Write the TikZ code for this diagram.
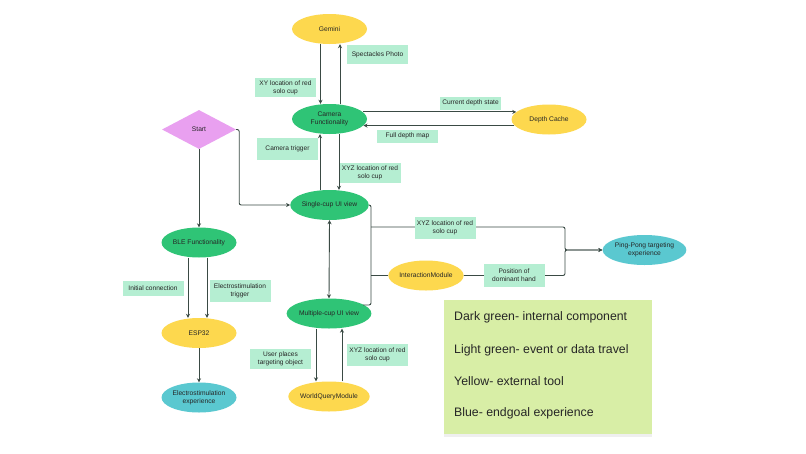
\documentclass[tikz,border=0pt]{standalone}
\usepackage{fontspec}
\setmainfont{Liberation Sans}
\usetikzlibrary{shapes.geometric,arrows.meta,calc,shadows}
\definecolor{dkgreen}{HTML}{2FC476}
\definecolor{yel}{HTML}{FDD84E}
\definecolor{blu}{HTML}{5AC8D0}
\definecolor{pnk}{HTML}{E9A0F0}
\definecolor{lbl}{HTML}{B5EED2}
\definecolor{leg}{HTML}{D8EEA6}
\definecolor{lin}{HTML}{3A4A44}
\definecolor{txt}{HTML}{262626}
\tikzset{
  comp/.style={ellipse, minimum width=75pt, minimum height=30pt, inner sep=0pt, text=txt, font=\fontsize{6.7}{8}\selectfont, align=center},
  dk/.style={comp, fill=dkgreen},
  ye/.style={comp, fill=yel},
  bl/.style={comp, fill=blu},
  lab/.style={fill=lbl, minimum width=61pt, minimum height=13pt, inner sep=1.5pt, text=txt, font=\fontsize{6.6}{8}\selectfont, align=center},
  conn/.style={draw=lin, line width=0.9pt},
  arr/.style={conn, -{Stealth[length=4pt,width=4pt]}},
  darr/.style={conn, {Stealth[length=4pt,width=4pt]}-{Stealth[length=4pt,width=4pt]}},
  legtxt/.style={anchor=west, text=txt, font=\fontsize{12.3}{14}\selectfont, inner sep=0pt},
}
\begin{document}
\begin{tikzpicture}[x=1pt,y=-1pt]
\useasboundingbox[fill=white] (0,0) rectangle (806,453);

% nodes
\node[ye] (gem) at (329.5,29) {Gemini};
\node[dk] (cam) at (329.5,119) {Camera\\Functionality};
\node[ye] (dc) at (549,119.5) {Depth Cache};
\node[diamond, fill=pnk, minimum width=74pt, minimum height=39pt, inner sep=0pt, aspect=1.9, text=txt, font=\fontsize{6.7}{8}\selectfont] (start) at (199,129.5) {Start};
\node[dk] (sc) at (329.5,205) {Single-cup UI view};
\node[ye] (im) at (426,275.5) {InteractionModule};
\node[bl] (pp) at (644.5,250) {Ping-Pong targeting\\experience};
\node[dk] (mc) at (329,313.5) {Multiple-cup UI view};
\node[dk] (ble) at (199,242.5) {BLE Functionality};
\node[ye] (esp) at (199,333) {ESP32};
\node[bl] (es) at (199,397.5) {Electrostimulation\\experience};
\node[ye] (wq) at (329,396.5) {WorldQueryModule};

% junction coordinates
\coordinate (bb) at (371,305);
\coordinate (j1) at (371,227);
\coordinate (j2) at (371,275.5);
\coordinate (k1) at (565,227);
\coordinate (k2) at (565,275.5);

% connectors
\draw[arr] ($(gem.south)+(-9,0)$) -- ($(cam.north)+(-9,0)$);
\draw[arr] ($(cam.north)+(10.5,0)$) -- ($(gem.south)+(10.5,0)$);
\draw[arr] (cam.12) -- (cam.12 -| dc.167);
\draw[arr] (dc.190) -- (dc.190 -| cam.-11);
\draw[arr] ($(sc.north)+(-9.5,0)$) -- ($(cam.south)+(-9.5,0)$);
\draw[arr] ($(cam.south)+(9.5,0)$) -- ($(sc.north)+(9.5,0)$);
\draw[arr, rounded corners=2pt] (start.east) -- ++(3,0) |- (sc.west);
\draw[arr] (start.south) -- (ble.north);
\draw[darr] (sc.south) -- (mc.north);
\draw[conn, rounded corners=2pt] (sc.east) -| (bb) -- (bb -| mc.15);
\draw[arr, rounded corners=2pt] (j1) -- (k1) |- (pp.west);
\draw[conn] (j2) -- (im.west);
\draw[arr, rounded corners=2pt] (im.east) -- (k2) |- (pp.west);
\draw[arr] ($(ble.south)+(-11,0)$) -- ($(esp.north)+(-11,0)$);
\draw[arr] ($(ble.south)+(8,0)$) -- ($(esp.north)+(8,0)$);
\draw[arr] (esp.south) -- (es.north);
\draw[arr] ($(mc.south)+(-13,0)$) -- ($(wq.north)+(-13,0)$);
\draw[arr] ($(wq.north)+(13,0)$) -- ($(mc.south)+(13,0)$);

% labels
\node[lab, minimum height=19pt] (l1) at (377.5,54.5) {Spectacles Photo};
\node[lab, minimum height=19pt] (l2) at (285.5,87.5) {XY location of red\\solo cup};
\node[lab, minimum height=22pt] (l3) at (287.5,149) {Camera trigger};
\node[lab, minimum height=20pt] (l4) at (370,173) {XYZ location of red\\solo cup};
\node[lab] (l5) at (407.5,136) {Full depth map};
\node[lab] (l6) at (470.5,103) {Current depth state};
\node[lab, minimum height=22pt] (l7) at (445,228) {XYZ location of red\\solo cup};
\node[lab, minimum height=23pt] (l8) at (514,275.5) {Position of\\dominant hand};
\node[lab, minimum height=15pt] (l9) at (153,288.5) {Initial connection};
\node[lab, minimum height=22pt] (l10) at (240,291) {Electrostimulation\\trigger};
\node[lab, minimum height=20pt] (l11) at (280.5,359) {User places\\targeting object};
\node[lab, minimum height=22pt] (l12) at (377.5,355) {XYZ location of red\\solo cup};

% legend
\node[fill=leg, minimum width=208pt, minimum height=134pt, inner sep=0pt, drop shadow={opacity=0.12, shadow xshift=0pt, shadow yshift=-2.5pt}] (legbox) at (548,367) {};
\node[legtxt] (g1) at (454,317) {Dark green- internal component};
\node[legtxt] (g2) at (454,350) {Light green- event or data travel};
\node[legtxt] (g3) at (454,381) {Yellow- external tool};
\node[legtxt] (g4) at (454,413) {Blue- endgoal experience};
\end{tikzpicture}
\end{document}
